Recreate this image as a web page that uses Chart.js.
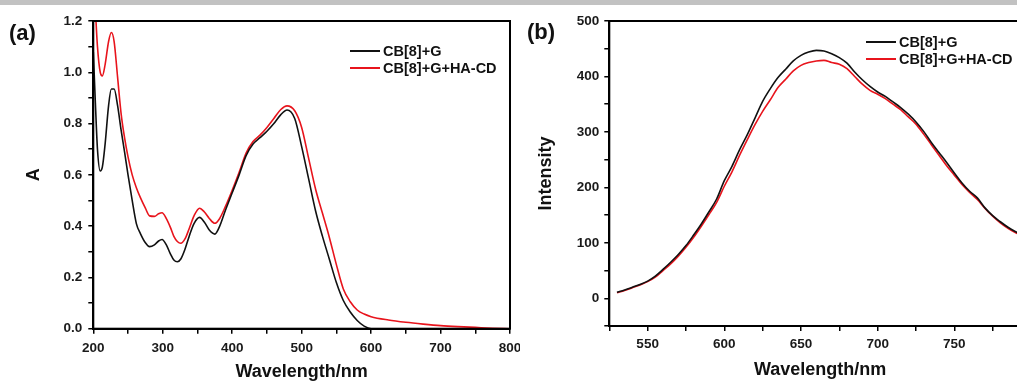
<!DOCTYPE html>
<html>
<head>
<meta charset="utf-8">
<script src="https://cdn.jsdelivr.net/npm/chart.js@4.4.0/dist/chart.umd.min.js"></script>
<style>
  html, body { margin: 0; padding: 0; background: #fff; overflow: hidden; width: 1017px; height: 382px; }
  #band { position: absolute; left: 0; top: 0; width: 1017px; height: 5px; background: #c2c2c2; z-index: 2; }
  canvas { position: absolute; top: 0; }
  #chartA { left: 0; }
  #chartB { left: 520px; }
  .panel { position: absolute; font: bold 22px "Liberation Sans", Arial, sans-serif; color: #111; line-height: 26px; }
  .legend { position: absolute; font: bold 14.5px "Liberation Sans", Arial, sans-serif; color: #111; }
  .legend div { height: 17px; display: flex; align-items: center; white-space: nowrap; }
  .legend span.line { display: inline-block; width: 30px; height: 2px; margin-right: 3px; }
</style>
</head>
<body>
<div id="band"></div>
<canvas id="chartA" width="520" height="382"></canvas>
<canvas id="chartB" width="525" height="382"></canvas>
<div class="panel" style="left:9px; top:20px;">(a)</div>
<div class="panel" style="left:527px; top:19px;">(b)</div>
<div class="legend" id="legendA" style="left:350px; top:42px;"></div>
<div class="legend" id="legendB" style="left:866px; top:33px;"></div>
<script>
// series names and colours
var seriesNames = ["CB[8]+G", "CB[8]+G+HA-CD"];
var seriesColors = ["#111111", "#e8141c"];

// (a) UV-vis absorbance
var absWavelength = [200, 203, 206, 210, 213, 217, 222, 226, 230, 235, 240, 245, 250, 256, 262, 268, 275, 281, 288, 294,
  299, 305, 311, 316, 321, 326, 332, 338, 345, 353, 360, 367, 375, 382, 390, 400, 410, 420, 430, 440,
  450, 460, 470, 479, 490, 500, 510, 520, 530, 540, 550, 560, 570, 580, 590, 600, 625, 650, 675, 700,
  725, 750, 775, 800];
var absG = [1.08, 0.88, 0.70, 0.615, 0.63, 0.72, 0.87, 0.935, 0.935, 0.87, 0.775, 0.69, 0.60, 0.50, 0.41, 0.37, 0.335, 0.32, 0.327, 0.342,
  0.348, 0.328, 0.292, 0.268, 0.261, 0.272, 0.31, 0.36, 0.41, 0.434, 0.415, 0.385, 0.369, 0.40, 0.46, 0.53, 0.60, 0.675, 0.72, 0.745,
  0.77, 0.80, 0.835, 0.853, 0.82, 0.71, 0.585, 0.46, 0.36, 0.27, 0.18, 0.11, 0.065, 0.032, 0.01, 0.0, 0, 0, 0, 0,
  0, 0, 0, 0];
var absGHA = [1.45, 1.25, 1.1, 1.0, 0.986, 1.03, 1.12, 1.155, 1.12, 0.98, 0.84, 0.745, 0.67, 0.60, 0.55, 0.51, 0.47, 0.44, 0.438, 0.448,
  0.452, 0.43, 0.395, 0.36, 0.34, 0.333, 0.35, 0.39, 0.44, 0.47, 0.455, 0.43, 0.411, 0.43, 0.475, 0.54, 0.61, 0.685, 0.73, 0.755,
  0.785, 0.82, 0.855, 0.869, 0.85, 0.785, 0.665, 0.545, 0.45, 0.355, 0.25, 0.155, 0.105, 0.073, 0.057, 0.047, 0.034, 0.025, 0.018, 0.012,
  0.008, 0.005, 0.002, 0.0];

// (b) fluorescence emission
var flWavelength = [530, 535, 540, 545, 550, 555, 560, 565, 570, 575, 580, 585, 590, 595, 600, 605, 610, 615, 620, 625,
  630, 635, 640, 645, 650, 655, 660, 665, 670, 675, 680, 685, 690, 695, 700, 705, 710, 715, 720, 725,
  730, 735, 740, 745, 750, 755, 760, 765, 770, 775, 780, 785, 790, 795, 800];
var flG = [11, 15, 20, 25, 31, 40, 52, 65, 79, 95, 114, 134, 156, 179, 212, 238, 268, 295, 325, 355,
  378, 398, 413, 428, 438, 444, 447, 446, 441, 434, 424, 408, 394, 382, 372, 364, 354, 344, 332, 318,
  301, 281, 263, 245, 226, 208, 193, 181, 163, 149, 138, 128, 120, 113, 106];
var flGHA = [10, 14, 19, 24, 30, 38, 50, 62, 76, 92, 110, 130, 151, 173, 202, 228, 258, 286, 313, 337,
  358, 380, 395, 410, 420, 425, 428, 429, 425, 422, 414, 400, 386, 375, 368, 360, 350, 340, 327, 314,
  296, 277, 258, 239, 222, 205, 191, 178, 162, 148, 136, 126, 118, 111, 104];

var tickFont = { family: "'Liberation Sans', Arial, sans-serif", size: 13.5, weight: "bold" };
var titleFont = { family: "'Liberation Sans', Arial, sans-serif", size: 18, weight: "bold" };

var framePlugin = {
  id: "frame",
  afterDraw: function (chart) {
    var a = chart.chartArea, ctx = chart.ctx;
    ctx.save();
    ctx.strokeStyle = "#000";
    ctx.lineWidth = 2;
    ctx.strokeRect(a.left, a.top, a.right - a.left, a.bottom - a.top);
    ctx.restore();
  }
};

function toPoints(xs, ys) {
  return xs.map(function (x, i) { return { x: x, y: ys[i] }; });
}

function makeDatasets(xs, series) {
  return series.map(function (ys, i) {
    return {
      label: seriesNames[i],
      data: toPoints(xs, ys),
      borderColor: seriesColors[i],
      borderWidth: 1.6,
      pointRadius: 0,
      cubicInterpolationMode: "monotone",
      fill: false
    };
  });
}

function tickGrid() {
  return { drawOnChartArea: false, drawTicks: true, tickLength: 5, color: "#000", lineWidth: 1.5 };
}

function buildLegend(id) {
  var box = document.getElementById(id);
  seriesNames.forEach(function (name, i) {
    var row = document.createElement("div");
    var line = document.createElement("span");
    line.className = "line";
    line.style.background = seriesColors[i];
    row.appendChild(line);
    row.appendChild(document.createTextNode(name));
    box.appendChild(row);
  });
}

// (a)
new Chart(document.getElementById("chartA"), {
  type: "line",
  data: { datasets: makeDatasets(absWavelength, [absG, absGHA]) },
  options: {
    responsive: false,
    animation: false,
    layout: { padding: { top: 21, right: 10, left: 0, bottom: 0 } },
    plugins: { legend: { display: false }, tooltip: { enabled: false } },
    scales: {
      x: {
        type: "linear", min: 200, max: 800,
        ticks: {
          stepSize: 50, autoSkip: false, maxRotation: 0, padding: 6, color: "#1a1a1a", font: tickFont,
          callback: function (v) { return v % 100 === 0 ? v : ""; }
        },
        grid: tickGrid(),
        border: { color: "#000", width: 2 },
        title: { display: true, text: "Wavelength/nm", font: titleFont, color: "#111", padding: { top: 0, bottom: -1 } },
        afterFit: function (s) { s.height = 53.3; s.paddingLeft = 0; s.paddingRight = 0; }
      },
      y: {
        min: 0, max: 1.2,
        ticks: {
          stepSize: 0.1, autoSkip: false, padding: 6, color: "#1a1a1a", font: tickFont,
          callback: function (v) { return Math.round(v * 10) % 2 === 0 ? v.toFixed(1) : ""; }
        },
        grid: tickGrid(),
        border: { color: "#000", width: 2 },
        title: { display: true, text: "A", font: titleFont, color: "#111", padding: { top: 23, bottom: 0 } },
        afterFit: function (s) { s.width = 93.3; }
      }
    }
  },
  plugins: [framePlugin]
});

// (b)
new Chart(document.getElementById("chartB"), {
  type: "line",
  data: { datasets: makeDatasets(flWavelength, [flG, flGHA]) },
  options: {
    responsive: false,
    animation: false,
    layout: { padding: { top: 21, right: 14, left: 0, bottom: 0 } },
    plugins: { legend: { display: false }, tooltip: { enabled: false } },
    scales: {
      x: {
        type: "linear", min: 525, max: 800,
        ticks: {
          stepSize: 25, autoSkip: false, maxRotation: 0, padding: 5, color: "#1a1a1a", font: tickFont,
          callback: function (v) { return v % 50 === 0 ? v : ""; }
        },
        grid: tickGrid(),
        border: { color: "#000", width: 2 },
        title: { display: true, text: "Wavelength/nm", font: titleFont, color: "#111", padding: { top: 0, bottom: 1 } },
        afterFit: function (s) { s.height = 56; s.paddingLeft = 0; s.paddingRight = 0; }
      },
      y: {
        min: -50, max: 500,
        ticks: {
          stepSize: 50, autoSkip: false, padding: 5, color: "#1a1a1a", font: tickFont,
          callback: function (v) { return v >= 0 && v % 100 === 0 ? v : ""; }
        },
        grid: tickGrid(),
        border: { color: "#000", width: 2 },
        title: { display: true, text: "Intensity", font: titleFont, color: "#111", padding: { top: 15, bottom: 0 } },
        afterFit: function (s) { s.width = 89.3; }
      }
    }
  },
  plugins: [framePlugin]
});

buildLegend("legendA");
buildLegend("legendB");
</script>
</body>
</html>
